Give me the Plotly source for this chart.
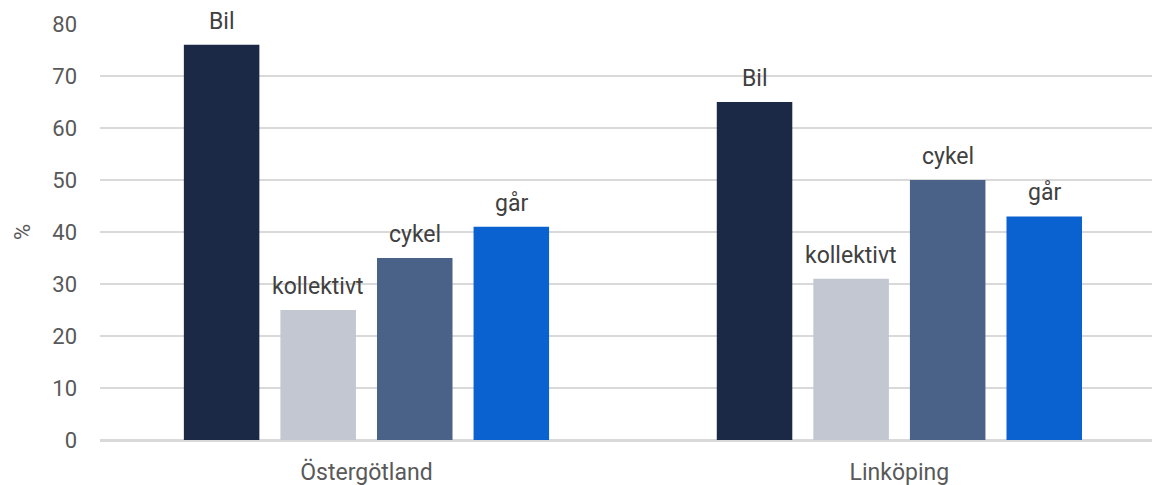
import plotly.graph_objects as go

categories = ["Östergötland", "Linköping"]
series_names = ["Bil", "kollektivt", "cykel", "går"]
bil = [76, 65]
kollektivt = [25, 31]
cykel = [35, 50]
gar = [41, 43]
series_values = [bil, kollektivt, cykel, gar]
colors = ["#1b2846", "#c3c7d2", "#4a6288", "#0a62d0"]

bar_w = 0.1417
step = 0.1812

fig = go.Figure()
for i, (name, vals, col) in enumerate(zip(series_names, series_values, colors)):
    off = (i - 1.5) * step - bar_w / 2
    fig.add_trace(go.Bar(
        name=name, x=categories, y=vals, marker_color=col,
        marker_line_width=0, width=bar_w, offset=off,
    ))
    for ci, v in enumerate(vals):
        fig.add_annotation(
            x=ci + off + bar_w / 2, y=v, xref="x", yref="y",
            text=name, showarrow=False, yanchor="bottom", yshift=8,
            font=dict(family="Roboto", size=23, color="#404040"),
        )

# page body has an 8px margin, so the figure is sized/offset to compensate
fig.update_layout(
    width=1152, height=477,
    margin=dict(l=92, r=0, t=16, b=45),
    paper_bgcolor="white", plot_bgcolor="white",
    showlegend=False, barmode="group",
    font=dict(family="Roboto", size=22, color="#595959"),
)
fig.update_xaxes(
    type="category", range=[-0.5, 1.489], showgrid=False, automargin=False,
    showline=True, linecolor="#d9d9d9", linewidth=1.5,
    tickfont=dict(size=23, color="#595959"), ticklabelstandoff=11,
)
fig.update_yaxes(
    range=[0, 80], dtick=10, showgrid=True, gridcolor="#d9d9d9", gridwidth=1.5,
    zeroline=True, zerolinecolor="#d9d9d9", zerolinewidth=1.5, automargin=False,
    tickfont=dict(size=22, color="#595959"), ticklabelstandoff=22,
    title=dict(text="%", font=dict(size=22, color="#595959"), standoff=15),
)
fig.write_html("out.html")
